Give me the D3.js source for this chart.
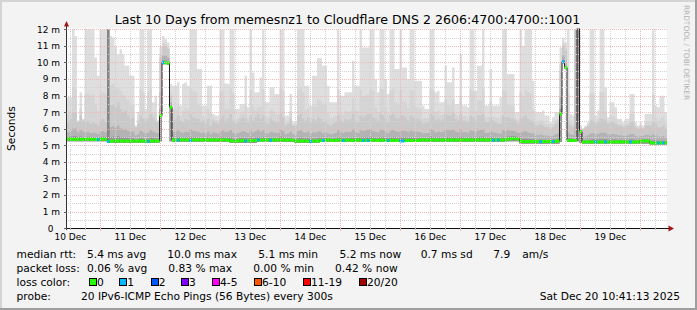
<!DOCTYPE html>
<html>
<head>
<meta charset="utf-8">
<script src="https://cdn.jsdelivr.net/npm/d3@7"></script>
<style>
  html, body { margin: 0; padding: 0; background: #f3f3f3; }
  svg { display: block; font-family: "DejaVu Sans", sans-serif; }
</style>
</head>
<body>
<div id="graph"></div>
<script>
// smokeping style latency graph: 10 days, one consolidated value per hour

const start_time = Date.UTC(2025, 11, 10, 10, 41, 13); // local time, kept as utc
const end_time = Date.UTC(2025, 11, 20, 10, 41, 13);
const hour = 3600 * 1000;

// median rtt per hour (ms)
const median_rtt = [
  5.37,5.38,5.36,5.37,5.38,5.37,5.36,5.37,5.38,5.37,5.37,5.36,5.35,5.37,5.38,5.36,5.24,5.25,5.26,5.26,
  5.27,5.26,5.25,5.26,5.27,5.26,5.25,5.26,5.27,5.26,5.26,5.25,5.24,5.26,5.27,5.26,5.27,6.80,10.00,10.00,
  9.95,7.30,5.33,5.34,5.31,5.33,5.34,5.33,5.32,5.30,5.33,5.34,5.33,5.32,5.33,5.34,5.33,5.32,5.33,5.33,
  5.34,5.33,5.32,5.33,5.32,5.28,5.27,5.26,5.28,5.28,5.29,5.27,5.28,5.28,5.29,5.30,5.32,5.30,5.33,5.32,
  5.33,5.31,5.32,5.33,5.32,5.34,5.32,5.31,5.33,5.32,5.31,5.26,5.25,5.26,5.27,5.26,5.25,5.24,5.26,5.27,
  5.26,5.30,5.29,5.31,5.32,5.31,5.30,5.31,5.32,5.31,5.29,5.31,5.32,5.31,5.30,5.31,5.32,5.31,5.30,5.31,
  5.29,5.31,5.32,5.31,5.30,5.32,5.31,5.30,5.29,5.30,5.31,5.30,5.29,5.27,5.27,5.30,5.31,5.30,5.29,5.30,
  5.30,5.32,5.33,5.32,5.31,5.33,5.32,5.33,5.32,5.31,5.33,5.32,5.33,5.32,5.31,5.32,5.33,5.32,5.33,5.34,
  5.33,5.32,5.33,5.32,5.33,5.34,5.33,5.32,5.33,5.32,5.31,5.33,5.32,5.34,5.33,5.32,5.38,5.40,5.41,5.40,
  5.38,5.24,5.23,5.22,5.23,5.24,5.23,5.22,5.23,5.22,5.23,5.24,5.23,5.22,5.23,5.24,5.26,6.90,10.05,9.70,
  5.30,5.31,5.30,5.30,13.00,5.83,5.21,5.22,5.21,5.20,5.21,5.22,5.21,5.20,5.21,5.22,5.21,5.20,5.21,5.22,
  5.21,5.22,5.21,5.20,5.21,5.22,5.21,5.20,5.21,5.26,5.27,5.27,5.26,5.16,5.15,5.14,5.15,5.16,5.15,5.15
];

// fastest ping per hour (ms), bottom of the smoke
const min_rtt = [
  5.25,5.25,5.25,5.25,5.25,5.25,5.25,5.25,5.25,5.25,5.25,5.25,5.25,5.25,5.25,5.25,5.15,5.15,5.15,5.15,
  5.15,5.15,5.15,5.15,5.15,5.15,5.15,5.15,5.15,5.15,5.15,5.15,5.15,5.15,5.15,5.15,5.15,5.25,9.90,9.90,
  9.85,5.25,5.2,5.2,5.2,5.2,5.2,5.2,5.2,5.2,5.2,5.2,5.2,5.2,5.2,5.2,5.2,5.2,5.2,5.2,
  5.2,5.2,5.2,5.2,5.2,5.15,5.15,5.15,5.15,5.15,5.15,5.15,5.15,5.15,5.15,5.15,5.2,5.2,5.2,5.2,
  5.2,5.2,5.2,5.2,5.2,5.2,5.2,5.2,5.2,5.2,5.2,5.15,5.15,5.15,5.15,5.15,5.15,5.15,5.15,5.15,
  5.15,5.2,5.2,5.2,5.2,5.2,5.2,5.2,5.2,5.2,5.2,5.2,5.2,5.2,5.2,5.2,5.2,5.2,5.2,5.2,
  5.2,5.2,5.2,5.2,5.2,5.2,5.2,5.2,5.2,5.2,5.2,5.2,5.2,5.2,5.2,5.2,5.2,5.2,5.2,5.2,
  5.2,5.2,5.2,5.2,5.2,5.2,5.2,5.2,5.2,5.2,5.2,5.2,5.2,5.2,5.2,5.2,5.2,5.2,5.2,5.2,
  5.2,5.2,5.2,5.2,5.2,5.2,5.2,5.2,5.2,5.2,5.2,5.2,5.2,5.2,5.2,5.2,5.25,5.25,5.25,5.25,
  5.25,5.1,5.1,5.1,5.1,5.1,5.1,5.1,5.1,5.1,5.1,5.1,5.1,5.1,5.1,5.1,5.1,5.2,9.95,9.60,
  5.2,5.2,5.2,5.2,5.25,5.15,5.1,5.1,5.1,5.1,5.1,5.1,5.1,5.1,5.1,5.1,5.1,5.1,5.1,5.1,
  5.1,5.1,5.1,5.1,5.1,5.1,5.1,5.1,5.1,5.1,5.1,5.1,5.1,5.05,5.05,5.05,5.05,5.05,5.05,5.05
];

// upper edge of the dense part of the smoke (ms)
const smoke_mid = [
  6.4,6.6,7.0,7.0,6.4,6.8,6.5,6.4,6.5,6.3,6.4,6.3,6.2,6.5,6.6,6.4,12,7.4,7.5,7.3,
  7.6,7.2,7.0,7.1,6.8,6.6,6.7,6.1,6.3,6.8,6.6,6.4,6.6,6.9,6.7,6.5,6.4,10.3,11.0,11.0,
  10.8,8.0,6.5,6.6,6.8,6.5,6.4,6.6,6.5,6.9,6.7,6.6,6.6,6.4,6.5,6.3,6.6,6.2,6.5,6.4,
  6.3,6.6,6.8,6.5,6.6,6.9,6.5,6.3,6.4,6.6,6.7,6.6,6.4,6.8,6.5,6.7,6.9,6.6,6.8,6.4,
  6.3,6.6,6.5,6.4,6.4,6.9,6.7,6.2,6.3,6.6,6.2,6.2,6.8,6.9,6.6,6.5,6.7,6.4,6.6,6.5,
  6.7,6.6,6.4,6.5,6.3,6.2,6.3,6.4,6.8,6.5,6.4,6.6,6.5,6.6,6.9,6.5,6.4,6.8,6.7,6.8,
  6.9,6.9,6.7,6.6,6.5,6.9,6.8,6.6,6.4,6.8,6.9,6.7,6.6,6.8,6.8,6.7,6.5,6.8,6.7,6.6,
  6.6,6.5,6.3,6.4,6.4,6.9,6.8,6.5,6.6,6.5,6.6,6.9,6.8,6.8,7.0,6.6,6.5,6.9,6.5,6.5,
  6.4,6.8,6.7,6.5,6.8,6.8,6.9,6.4,6.4,6.7,6.5,6.4,6.3,6.3,6.8,6.7,6.7,6.6,6.6,6.5,
  6.3,6.6,6.7,6.8,6.6,6.5,6.4,6.2,6.2,6.3,6.2,6.1,6.1,6.0,6.1,6.3,6.4,9.5,11.0,10.7,
  6.5,6.2,6.1,12,12,6.0,6.0,6.1,6.2,6.5,6.5,6.3,6.4,6.6,6.6,6.5,6.3,6.4,6.4,6.3,
  6.2,6.2,6.1,6.2,6.2,6.4,6.4,6.1,6.0,6.1,6.0,6.2,6.2,6.2,6.4,6.3,6.1,6.1,6.2,6.0
];

// slowest ping per hour (ms), top of the smoke (anything above 12 is cut off)
const max_rtt = [
  7.9,7.9,12,11.6,6.5,8.2,6.6,12,12,12,12,10.3,9.2,12,12,12,12,11.6,11.5,11.0,
  10.5,10.8,10.5,9.8,9.8,9.2,9.2,6.2,7.0,12,12,7.2,12,12,7.6,8.0,6.5,11.0,11.6,11.4,
  11.2,8.7,8.6,8.6,8.8,7.4,8.7,8.8,8.6,12,12,12,9.6,9.6,7.4,7.4,8.6,8.6,6.9,6.8,
  6.8,12,12,8.75,8.7,12,12,7.2,7.2,7.5,7.5,9.2,7.3,12,9.4,8.2,8.2,9.1,12,7.6,
  7.6,8.5,8.5,8.1,8.1,12,12,6.8,6.8,8.1,6.4,6.4,12,12,12,8.6,8.6,7.4,9.2,9.2,
  10.25,10.25,9.8,9.8,8.6,7.6,7.6,7.6,12,8.0,8.0,8.2,8.2,8.2,10.1,8.6,8.6,12,10.9,10.9,
  10.9,12,12,9.0,8.2,12,12,9.0,8.1,12,12,9.6,9.6,12,9.7,9.7,9.0,12,12,8.9,
  8.9,8.9,7.4,7.2,7.2,12,12,8.2,8.3,7.6,7.6,9.8,8.8,8.8,9.7,7.5,7.5,10.5,7.4,7.4,
  7.3,12,12,8.3,9.8,9.8,12,7.4,7.4,9.6,7.4,7.4,7.4,7.9,12,12,9.3,9.3,9.3,7.0,
  7.0,12,11,12,12,12,8.9,7.0,7.0,7.0,7.1,6.8,6.8,6.4,6.7,7.0,7.0,10.9,11.5,11.2,
  12,6.9,6.8,12,12,6.2,6.0,6.2,6.4,12,12,6.8,7.1,12,12,8.5,6.7,7.6,7.6,7.3,
  6.6,6.6,6.4,6.6,6.6,8.1,8.1,6.4,6.2,6.4,6.2,6.9,6.9,6.9,12,7.4,7.3,8.0,8.0,7.0
];

// hours where 1 of 20 pings was lost (all other hours: no loss)
const loss_one_hours = [12, 16, 32, 38, 44, 49, 71, 76, 81, 97, 102, 110, 118, 120, 128, 133, 134,
  170, 172, 189, 194, 198, 211, 215, 225, 236, 238];

// hours where the smoke is dense all the way up
const dense_hours = [16, 203, 204];
const dense_level = [0.44, 0.64, 0.5];

const y_ticks = [0, 1, 2, 3, 4, 5, 6, 7, 8, 9, 10, 11, 12];
const loss_labels = ["0", "1", "2", "3", "4-5", "6-10", "11-19", "20/20"];
const rtt_stats = ["5.4 ms avg", "10.0 ms max", "5.1 ms min", "5.2 ms now", "0.7 ms sd", "7.9", "am/s"];
const loss_stats = ["0.06 % avg", "0.83 % max", "0.00 % min", "0.42 % now"];
const title_text = "Last 10 Days from memesnz1 to Cloudflare DNS 2 2606:4700:4700::1001";
const probe_text = "20 IPv6-ICMP Echo Pings (56 Bytes) every 300s";
const stamp_text = "Sat Dec 20 10:41:13 2025";

// layout
const width = 697, height = 310;
const plot_left = 67, plot_right = 667, plot_top = 28.5, plot_bottom = 228;
const loss_colors = ["#26ff00", "#00b8ff", "#0059ff", "#7e00ff", "#ff00ff", "#ff5500", "#ff0000", "#a10000"];
const rtt_x = [87, 167.3, 258.3, 339.5, 420.7, 493.3, 522.3];
const loss_x = [87, 168.3, 253.3, 335];
const box_x = [89, 119.3, 150.7, 181, 212, 254, 303, 359];

const x = d3.scaleUtc().domain([start_time, end_time]).range([plot_left, plot_right]);
const y = d3.scaleLinear().domain([0, 12]).range([228.3, 29.3]);

const n = median_rtt.length;
const hours = d3.range(n + 1);
const at = k => Math.min(k, n - 1);
const hx = k => x(new Date(start_time + k * hour));
const loss_of = k => loss_one_hours.includes(k) ? 1 : 0;

let svg = d3.select("#graph").append("svg")
  .attr("width", width)
  .attr("height", height);

// background and frame
svg.append("rect").attr("width", width).attr("height", height).attr("fill", "#f3f3f3");
svg.append("rect").attr("x", 0).attr("y", 0).attr("width", width).attr("height", 2).attr("fill", "#d4d4d4");
svg.append("rect").attr("x", 0).attr("y", 0).attr("width", 2).attr("height", height).attr("fill", "#d4d4d4");
svg.append("rect").attr("x", 0).attr("y", height - 2).attr("width", width).attr("height", 2).attr("fill", "#9e9e9e");
svg.append("rect").attr("x", width - 2).attr("y", 0).attr("width", 2).attr("height", height).attr("fill", "#9e9e9e");

svg.append("rect")
  .attr("x", plot_left).attr("y", plot_top)
  .attr("width", plot_right - plot_left).attr("height", plot_bottom - plot_top)
  .attr("fill", "#ffffff");

svg.append("clipPath").attr("id", "plot-clip")
  .append("rect")
  .attr("x", plot_left).attr("y", plot_top)
  .attr("width", plot_right - plot_left).attr("height", plot_bottom - plot_top);

let plot = svg.append("g").attr("clip-path", "url(#plot-clip)");

// smoke: lighter bands for the outer pings, darker near the median
function smoke_band(level, colour) {
  const area = d3.area()
    .curve(d3.curveStepAfter)
    .x(k => hx(k))
    .y0(k => y(min_rtt[at(k)]))
    .y1(k => y(Math.max(min_rtt[at(k)], level(at(k)))));
  plot.append("path").datum(hours).attr("d", area).attr("fill", colour);
}
const mid_of = k => Math.min(smoke_mid[k], max_rtt[k]);
smoke_band(k => max_rtt[k], "#dedede");
smoke_band(k => mid_of(k) + 0.3 * (max_rtt[k] - mid_of(k)), "#d5d5d5");
smoke_band(k => mid_of(k), "#c9c9c9");
smoke_band(k => median_rtt[k] + 0.4 * (mid_of(k) - median_rtt[k]), "#b3b3b3");
smoke_band(k => median_rtt[k] + 0.12 * (mid_of(k) - median_rtt[k]), "#949494");

plot.selectAll("rect.dense")
  .data(dense_hours)
  .join("rect")
  .attr("class", "dense")
  .attr("x", k => hx(k))
  .attr("width", k => hx(k + 1) - hx(k))
  .attr("y", k => y(max_rtt[k]))
  .attr("height", k => y(min_rtt[k]) - y(max_rtt[k]))
  .attr("fill", (k, i) => d3.interpolateGreys(1 - dense_level[i]));

// grid, drawn over the smoke
let grid = svg.append("g")
  .attr("stroke-dasharray", "1,1")
  .attr("shape-rendering", "crispEdges")
  .attr("fill", "none");

const px = v => Math.round(v) + 0.5;
const minor_y = d3.range(0.5, 12, 1);
const major_y = y_ticks.filter(v => v > 0);
const days = d3.utcDay.range(new Date(start_time), new Date(end_time));
const quarters = d3.utcHour.every(6).range(new Date(start_time), new Date(end_time))
  .filter(d => d.getUTCHours() !== 0);

grid.selectAll("line.minor-y").data(minor_y).join("line")
  .attr("x1", plot_left + 1).attr("x2", plot_right)
  .attr("y1", v => px(y(v))).attr("y2", v => px(y(v)))
  .attr("stroke", "#d2d2d2");
grid.selectAll("line.minor-x").data(quarters).join("line")
  .attr("y1", plot_top).attr("y2", plot_bottom)
  .attr("x1", d => px(x(d))).attr("x2", d => px(x(d)))
  .attr("stroke", "#d2d2d2");
grid.selectAll("line.major-y").data(major_y).join("line")
  .attr("x1", plot_left + 1).attr("x2", plot_right)
  .attr("y1", v => px(y(v))).attr("y2", v => px(y(v)))
  .attr("stroke", "#efb9b9");
grid.selectAll("line.major-x").data(days).join("line")
  .attr("y1", plot_top).attr("y2", plot_bottom)
  .attr("x1", d => px(x(d))).attr("x2", d => px(x(d)))
  .attr("stroke", "#efb9b9");

// median: thin dark step line plus thick loss coloured pieces
const median_line = d3.line()
  .curve(d3.curveStepAfter)
  .x(k => hx(k))
  .y(k => y(median_rtt[at(k)]));
plot.append("path").datum(hours)
  .attr("d", median_line)
  .attr("fill", "none")
  .attr("stroke", "#202020")
  .attr("stroke-width", 1);

plot.selectAll("line.median").data(d3.range(n)).join("line")
  .attr("class", "median")
  .attr("x1", k => hx(k)).attr("x2", k => hx(k + 1))
  .attr("y1", k => y(median_rtt[k])).attr("y2", k => y(median_rtt[k]))
  .attr("stroke", k => loss_colors[loss_of(k)])
  .attr("stroke-width", 3);

// axes
let axes = svg.append("g").attr("shape-rendering", "crispEdges");
axes.append("line")
  .attr("x1", plot_left - 0.5).attr("x2", plot_left - 0.5)
  .attr("y1", plot_bottom + 2).attr("y2", 24)
  .attr("stroke", "#303030");
axes.append("line")
  .attr("x1", plot_left - 3).attr("x2", 670)
  .attr("y1", plot_bottom + 0.5).attr("y2", plot_bottom + 0.5)
  .attr("stroke", "#101010");
axes.selectAll("line.ytick").data(y_ticks).join("line")
  .attr("x1", plot_left - 3).attr("x2", plot_left)
  .attr("y1", v => px(y(v))).attr("y2", v => px(y(v)))
  .attr("stroke", "#606060");
axes.selectAll("line.xtick").data(days.concat(quarters)).join("line")
  .attr("x1", d => px(x(d))).attr("x2", d => px(x(d)))
  .attr("y1", plot_bottom).attr("y2", d => d.getUTCHours() === 0 ? plot_bottom + 3 : plot_bottom + 2)
  .attr("stroke", d => d.getUTCHours() === 0 ? "#efb9b9" : "#bdbdbd");

svg.append("path")
  .attr("d", `M${plot_left - 3},26.5 L${plot_left + 2},26.5 L${plot_left - 0.5},21 Z`)
  .attr("fill", "#a31515");
svg.append("path")
  .attr("d", `M668.5,225.5 L668.5,231.5 L674,228.5 Z`)
  .attr("fill", "#a31515");

// tick labels, one per day centred at noon
let labels = svg.append("g").attr("font-size", "9px").attr("fill", "#000");
labels.selectAll("text.ylab").data(y_ticks).join("text")
  .attr("x", v => v === 0 ? 53.5 : 60)
  .attr("y", v => y(v) + 3.3)
  .attr("text-anchor", "end")
  .text(v => v === 0 ? "0" : v + " m");

const noons = d3.utcHour.every(12).range(new Date(start_time), new Date(end_time))
  .filter(d => d.getUTCHours() === 12);
labels.selectAll("text.xlab").data(noons).join("text")
  .attr("x", d => x(d))
  .attr("y", 240)
  .attr("text-anchor", "middle")
  .text(d => d3.utcFormat("%d %b")(d));

// title, unit, watermark
svg.append("text")
  .attr("x", 347.5).attr("y", 24)
  .attr("text-anchor", "middle")
  .attr("font-size", "12.6px")
  .text(title_text);

svg.append("text")
  .attr("transform", "translate(15,128.5) rotate(-90)")
  .attr("text-anchor", "middle")
  .attr("font-size", "10.67px")
  .text("Seconds");

svg.append("text")
  .attr("transform", "translate(684,52.5) rotate(90)")
  .attr("text-anchor", "middle")
  .attr("font-size", "7.4px")
  .attr("fill", "#b0b0b0")
  .text("RRDTOOL / TOBI OETIKER");

// legend
let legend = svg.append("g").attr("font-size", "10.67px").attr("fill", "#000");
legend.append("text").attr("x", 16.5).attr("y", 257.5).text("median rtt:");
legend.append("text").attr("x", 16.5).attr("y", 271.5).text("packet loss:");
legend.append("text").attr("x", 16.5).attr("y", 285.5).text("loss color:");
legend.append("text").attr("x", 16.5).attr("y", 299.5).text("probe:");

legend.selectAll("text.rtt").data(rtt_stats).join("text")
  .attr("x", (s, i) => rtt_x[i]).attr("y", 257.5).text(s => s);
legend.selectAll("text.loss").data(loss_stats).join("text")
  .attr("x", (s, i) => loss_x[i]).attr("y", 271.5).text(s => s);

legend.selectAll("rect.box").data(loss_labels).join("rect")
  .attr("x", (s, i) => box_x[i] + 0.5).attr("y", 278.5)
  .attr("width", 7).attr("height", 7)
  .attr("fill", (s, i) => loss_colors[i])
  .attr("stroke", "#000").attr("stroke-width", 1)
  .attr("shape-rendering", "crispEdges");
legend.selectAll("text.boxlab").data(loss_labels).join("text")
  .attr("x", (s, i) => box_x[i] + 8).attr("y", 285.5).text(s => s);

legend.append("text").attr("x", 81).attr("y", 299.5).text(probe_text);
legend.append("text").attr("x", 680).attr("y", 299.5).attr("text-anchor", "end").text(stamp_text);
</script>
</body>
</html>
